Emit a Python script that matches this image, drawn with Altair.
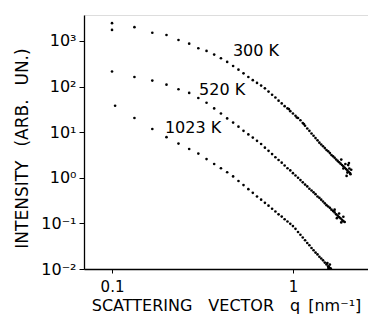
import altair as alt
import pandas as pd

# ---- data ----
q_grid = [0.100, 0.133, 0.167, 0.200, 0.233, 0.267, 0.300, 0.333, 0.367, 0.400,
          0.433, 0.467, 0.500, 0.533, 0.567, 0.600, 0.633, 0.667, 0.700, 0.733,
          0.767, 0.800, 0.833, 0.867, 0.900, 0.933, 0.967, 1.000, 1.033, 1.067,
          1.100, 1.133, 1.167, 1.200, 1.233, 1.267, 1.300, 1.333, 1.367, 1.400,
          1.433, 1.467, 1.500, 1.533, 1.567, 1.600, 1.633, 1.667, 1.700, 1.733,
          1.767, 1.800, 1.833, 1.867, 1.900, 1.933, 1.967, 2.000, 2.033, 2.067]

q_300 = q_grid + [0.100, 1.85, 1.90, 1.95, 2.00, 2.02, 2.05, 2.08, 2.10, 1.98, 2.04, 0.95, 1.05, 1.15]
I_300 = [2450, 2000, 1510, 1350, 1050, 871, 692, 603, 501, 417,
         347, 282, 234, 195, 162, 138, 120, 105, 91.2, 77.6,
         66.1, 57.5, 49.0, 42.7, 37.2, 33.1, 28.8, 25.7, 22.9, 20.4,
         18.2, 15.8, 13.8, 12.0, 10.7, 9.33, 8.32, 7.41, 6.61, 5.89,
         5.37, 4.90, 4.47, 4.07, 3.80, 3.47, 3.16, 2.95, 2.75, 2.51,
         2.34, 2.19, 2.04, 1.91, 1.78, 1.66, 1.55, 1.45, 1.35, 1.27] + \
        [1740, 2.5, 1.6, 2.0, 1.3, 1.9, 1.6, 1.2, 1.5, 1.1, 2.1, 32.0, 21.0, 15.0]

q_520 = q_grid[:56] + [1.70, 1.75, 1.80, 1.85, 1.90]
I_520 = [214, 162, 135, 110, 87.1, 72.4, 56.2, 44.2, 33.1, 25.7,
         20.0, 16.2, 13.2, 10.7, 8.91, 7.59, 6.46, 5.50, 4.57, 3.89,
         3.31, 2.82, 2.45, 2.14, 1.86, 1.62, 1.45, 1.26, 1.12, 1.00,
         0.891, 0.794, 0.708, 0.646, 0.575, 0.525, 0.479, 0.437, 0.389, 0.363,
         0.331, 0.302, 0.275, 0.251, 0.234, 0.219, 0.200, 0.186, 0.174, 0.158,
         0.148, 0.138, 0.129, 0.120, 0.112, 0.107] + [0.20, 0.13, 0.165, 0.105, 0.14]

q_1023 = [0.104] + q_grid[1:46] + [1.55, 1.58, 1.60, 1.62, 1.57]
I_1023 = [38.0, 20.4, 11.7, 7.76, 5.62, 4.27, 3.39, 2.57, 2.00, 1.62,
          1.32, 1.07, 0.851, 0.692, 0.562, 0.468, 0.389, 0.331, 0.282, 0.245,
          0.209, 0.182, 0.158, 0.141, 0.123, 0.110, 0.0977, 0.0871, 0.0759, 0.0646,
          0.0562, 0.0490, 0.0427, 0.0372, 0.0331, 0.0288, 0.0257, 0.0229, 0.0209, 0.0186,
          0.0170, 0.0155, 0.0138, 0.0126, 0.0115, 0.0105] + [0.0135, 0.011, 0.0125, 0.0102, 0.0105]

label_text = ["300 K", "520 K", "1023 K"]
label_q = [0.466, 0.303, 0.196]
label_I = [603, 85, 12.6]

x_title = "SCATTERING\u2003VECTOR\u2003q\u2002[nm⁻¹]"
y_title = "INTENSITY\u2002 (ARB.\u2002 UN.)"

# ---- tables ----
rows = []
for name, qs, Is in [("300 K", q_300, I_300), ("520 K", q_520, I_520), ("1023 K", q_1023, I_1023)]:
    for a, b in zip(qs, Is):
        rows.append({"series": name, "q": a, "I": b})
df = pd.DataFrame(rows)
lab = pd.DataFrame({"text": label_text, "q": label_q, "I": label_I})

FONT = "DejaVu Sans"

xscale = alt.Scale(type="log", domain=[0.07, 2.6], nice=False)
yscale = alt.Scale(type="log", domain=[0.01, 3700], nice=False)

y_label_expr = ("round(log(datum.value)/LN10) == 3 ? '10³' : "
                "round(log(datum.value)/LN10) == 2 ? '10²' : "
                "round(log(datum.value)/LN10) == 1 ? '10¹' : "
                "round(log(datum.value)/LN10) == 0 ? '10⁰' : "
                "round(log(datum.value)/LN10) == -1 ? '10⁻¹' : '10⁻²'")

points = alt.Chart(df).mark_circle(size=7, color="black", opacity=1, clip=True).encode(
    x=alt.X("q:Q", scale=xscale,
            axis=alt.Axis(values=[0.1, 1], labelExpr="datum.value < 0.5 ? '0.1' : '1'",
                          title=x_title, grid=False,
                          tickSize=4, labelPadding=6,
                          titleY=41, titleBaseline="alphabetic",
                          labelFontSize=15, titleFontSize=16, titleFontWeight="normal",
                          labelFont=FONT, titleFont=FONT,
                          domainColor="black", tickColor="black", labelColor="black",
                          titleColor="black", domainWidth=1.3)),
    y=alt.Y("I:Q", scale=yscale,
            axis=alt.Axis(values=[0.01, 0.1, 1, 10, 100, 1000], labelExpr=y_label_expr,
                          title=y_title, grid=False,
                          tickSize=5, labelPadding=3, titlePadding=9, titleY=133,
                          labelFontSize=16, titleFontSize=17, titleFontWeight="normal",
                          labelFont=FONT, titleFont=FONT,
                          domainColor="black", tickColor="black", labelColor="black",
                          titleColor="black", domainWidth=1.3)),
)

labels = alt.Chart(lab).mark_text(align="left", baseline="middle", fontSize=16,
                                   font=FONT, color="black").encode(
    x=alt.X("q:Q", scale=xscale),
    y=alt.Y("I:Q", scale=yscale),
    text="text:N",
)

chart = alt.layer(points, labels).properties(
    width=284, height=254,
    autosize=alt.AutoSizeParams(type="none"),
    padding={"left": 76, "top": 7, "right": 0, "bottom": 46},
).configure_view(stroke=None).configure(background="white")

chart.save("out.html", embed_options={"renderer": "svg", "actions": False})
